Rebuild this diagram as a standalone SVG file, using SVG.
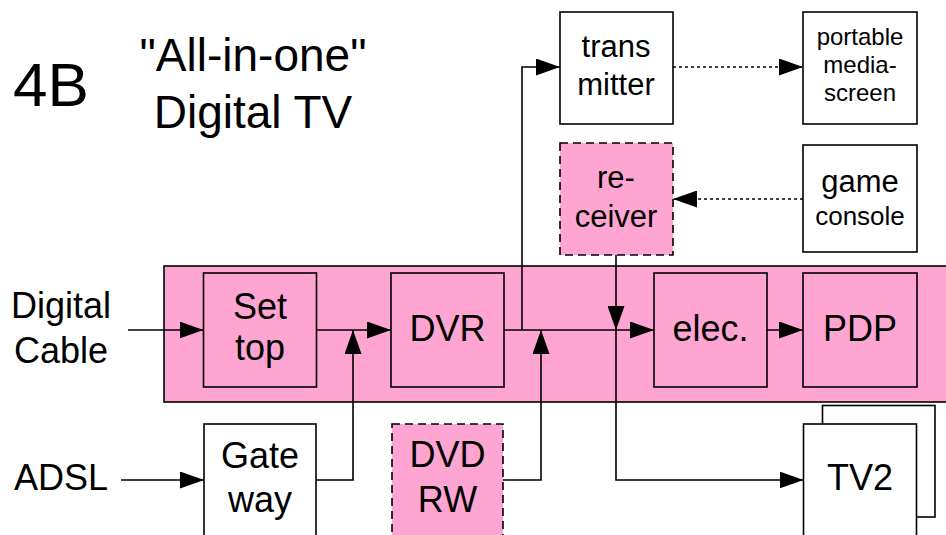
<svg xmlns="http://www.w3.org/2000/svg" width="946" height="535" viewBox="0 0 946 535">
<style>
text{font-family:"Liberation Sans",Arial,sans-serif;fill:#000;text-anchor:middle}
.box{fill:#fff;stroke:#000;stroke-width:1.6}
.pink{fill:#FFA5D2;stroke:#000;stroke-width:1.6}
.dash{fill:#FFA5D2;stroke:#000;stroke-width:1.6;stroke-dasharray:8,5}
.ln{fill:none;stroke:#000;stroke-width:1.6;marker-end:url(#ah)}
.pl{fill:none;stroke:#000;stroke-width:1.6}
.dot{fill:none;stroke:#000;stroke-width:1.6;stroke-dasharray:3,3;marker-end:url(#ah)}
.f36{font-size:36px}
.f31{font-size:31px}
</style>
<defs>
<marker id="ah" markerUnits="userSpaceOnUse" markerWidth="24" markerHeight="17" refX="24" refY="8.5" orient="auto" viewBox="0 0 24 17">
<path d="M0,0 L24,8.5 L0,17 z" fill="#000"/>
</marker>
</defs>
<rect width="946" height="535" fill="#fff"/>
<g id="title">
<text x="51" y="106" font-size="62">4B</text>
<text x="253" y="71" font-size="46">"All-in-one"</text>
<text x="253" y="128" font-size="46">Digital TV</text>
</g>
<g id="allinone">
<rect class="pink" x="164" y="266" width="790" height="136"/>
</g>
<g id="digital-cable"><text class="f36" x="61" y="318">Digital</text><text class="f36" x="61" y="363">Cable</text></g>
<g id="adsl"><text class="f36" x="61" y="490">ADSL</text></g>
<g id="transmitter"><rect class="box" x="560" y="12" width="113" height="112"/><text class="f31" x="616" y="57">trans</text><text class="f31" x="616" y="95">mitter</text></g>
<g id="portable"><rect class="box" x="803" y="12" width="114" height="112"/><text font-size="24" x="860" y="45">portable</text><text font-size="24" x="860" y="73">media-</text><text font-size="24" x="860" y="101">screen</text></g>
<g id="receiver"><rect class="dash" x="560" y="143" width="113" height="112"/><text class="f31" x="616" y="188">re-</text><text class="f31" x="616" y="227">ceiver</text></g>
<g id="game"><rect class="box" x="803" y="145" width="114" height="107"/><text class="f31" x="860" y="192">game</text><text font-size="26" x="860" y="225">console</text></g>
<g id="settop"><rect class="pink" x="203.5" y="273" width="113" height="114"/><text class="f36" x="260" y="319">Set</text><text class="f36" x="260" y="360">top</text></g>
<g id="dvr"><rect class="pink" x="391" y="273" width="113" height="114"/><text class="f36" x="447.5" y="341">DVR</text></g>
<g id="elec"><rect class="pink" x="654" y="273" width="113" height="114"/><text class="f36" x="710.5" y="341">elec.</text></g>
<g id="pdp"><rect class="pink" x="803" y="273" width="114" height="114"/><text class="f36" x="860" y="341">PDP</text></g>
<g id="gateway"><rect class="box" x="204" y="424" width="112" height="125"/><text class="f36" x="260" y="468">Gate</text><text class="f36" x="260" y="512">way</text></g>
<g id="dvdrw"><rect class="dash" x="392" y="424" width="111" height="125"/><text class="f36" x="447.5" y="467">DVD</text><text class="f36" x="447.5" y="512">RW</text></g>
<g id="tv2"><rect class="box" x="822.5" y="405.5" width="112.5" height="111.5"/><rect class="box" x="803.5" y="424" width="113" height="125"/><text class="f36" x="860" y="490">TV2</text></g>
<g id="connectors">
<path class="ln" d="M128,330 H203.5"/>
<path class="ln" d="M316.5,330 H391"/>
<path class="ln" d="M316,480 H353 V330"/>
<path class="ln" d="M504,330 H654"/>
<path class="ln" d="M522,330 V67 H560"/>
<path class="ln" d="M503,480 H541 V330"/>
<path class="ln" d="M616,255 V330"/>
<path class="ln" d="M616,330 V480 H803.5"/>
<path class="ln" d="M767,330 H803"/>
<path class="dot" d="M673,67 H803"/>
<path class="dot" d="M803,199 H673"/>
<path class="ln" d="M121,480 H204"/>
</g>
</svg>
